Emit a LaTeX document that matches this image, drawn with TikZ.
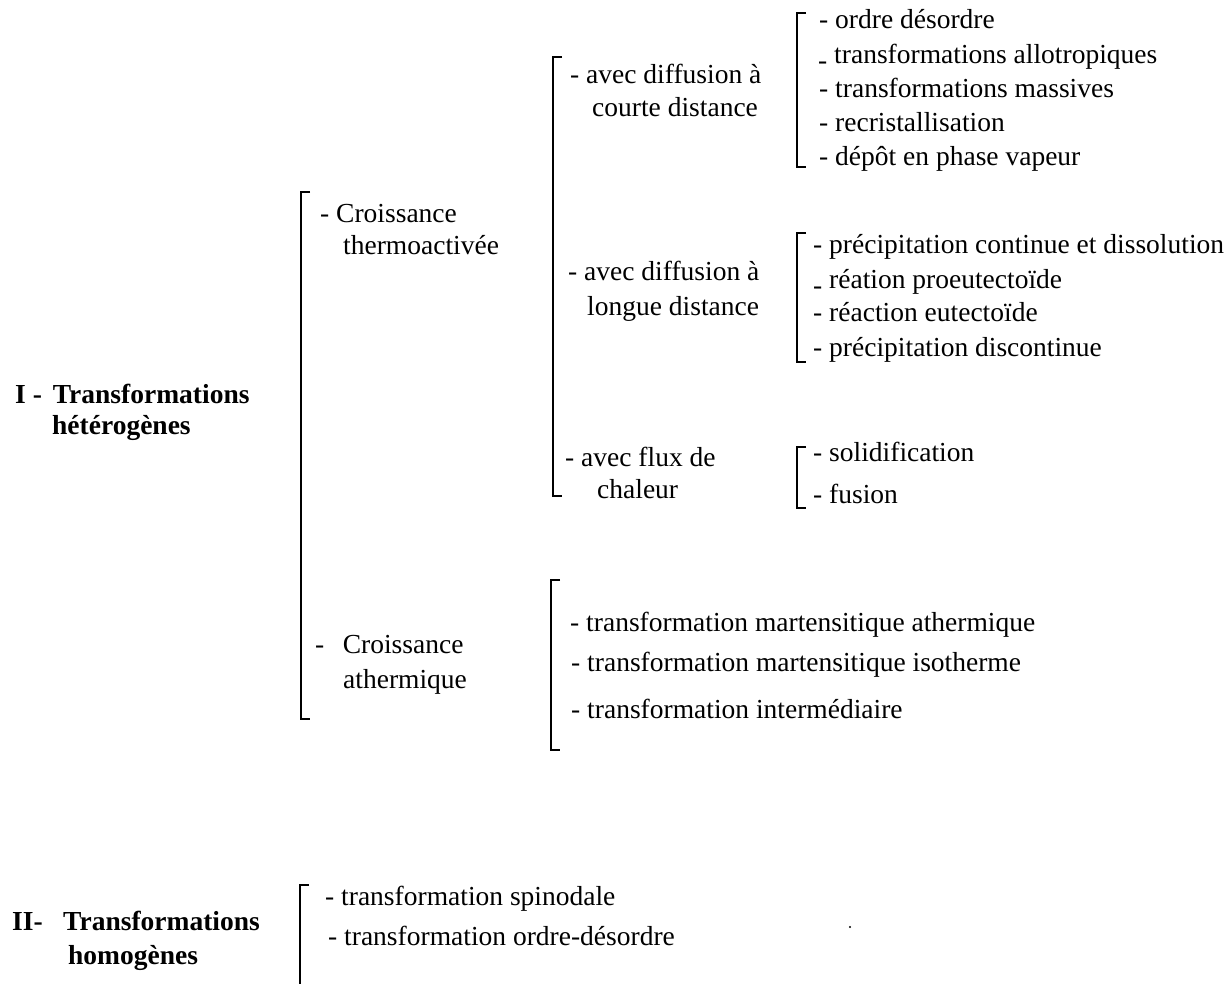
\documentclass[tikz,border=0pt]{standalone}
\usepackage{fontspec}
\setmainfont{Liberation Serif}
\newcommand\lowdash{\raisebox{-0.22em}{-}}
\newcommand\mybrk[3]{\draw[brk] ({#1+9},#2) -- (#1,#2) -- (#1,#3) -- ({#1+9},#3);}
\begin{document}
\begin{tikzpicture}[x=1pt,y=-1pt,
  txt/.style={anchor=west,inner sep=0pt,yshift=-6pt,font=\fontsize{27.5}{33}\selectfont,text height=0.7em,text depth=0.25em},
  ttl/.style={txt,font=\fontsize{27.5}{33}\selectfont\bfseries},
  brk/.style={line width=1.8pt,line cap=butt,line join=miter}]
\useasboundingbox[fill=white] (0,0) rectangle (1228,983);

% titles
\node[ttl] (t1a) at (15,395) {I -\hspace{11pt}Transformations};
\node[ttl] (t1b) at (52,426) {hétérogènes};
\node[ttl] (t2a) at (12,922) {II-\hspace{20.5pt}Transformations};
\node[ttl] (t2b) at (68,956) {homogènes};

% level 2
\mybrk{301}{192}{719}
\node[txt] (ct1) at (320,214) {- Croissance};
\node[txt] (ct2) at (343,246) {thermoactivée};
\node[txt] (ca1) at (315,645) {-\hspace{18.5pt}Croissance};
\node[txt] (ca2) at (343,680) {athermique};

% level 3
\mybrk{553}{57}{496}
\node[txt] (cd1) at (570,75) {- avec diffusion à};
\node[txt] (cd2) at (592,108) {courte distance};
\node[txt] (ld1) at (568,272) {- avec diffusion à};
\node[txt] (ld2) at (587,307) {longue distance};
\node[txt] (fc1) at (565,458) {- avec flux de};
\node[txt] (fc2) at (597,490) {chaleur};

\mybrk{551}{580}{750}
\node[txt] (f1) at (570,623) {- transformation martensitique athermique};
\node[txt] (f2) at (571,663) {- transformation martensitique isotherme};
\node[txt] (f3) at (571,710) {- transformation intermédiaire};

% level 4
\mybrk{797}{13}{167}
\node[txt] (c1) at (819,20) {- ordre désordre};
\node[txt] (c2) at (818,55) {\lowdash{} transformations allotropiques};
\node[txt] (c3) at (819,89) {- transformations massives};
\node[txt] (c4) at (819,123) {- recristallisation};
\node[txt] (c5) at (819,157) {- dépôt en phase vapeur};

\mybrk{797}{233}{362}
\node[txt] (d1) at (813,245) {- précipitation continue et dissolution};
\node[txt] (d2) at (813,280) {\lowdash{} réation proeutectoïde};
\node[txt] (d3) at (813,313) {- réaction eutectoïde};
\node[txt] (d4) at (813,348) {- précipitation discontinue};

\mybrk{797}{447}{508}
\node[txt] (e1) at (813,453) {- solidification};
\node[txt] (e2) at (813,495) {- fusion};

% homogeneous
\draw[brk] (309,885) -- (300,885) -- (300,984);
\node[txt] (g1) at (325,897) {- transformation spinodale};
\node[txt] (g2) at (328,937) {- transformation ordre-désordre};
\fill (850,927) circle (1.1);
\end{tikzpicture}
\end{document}
